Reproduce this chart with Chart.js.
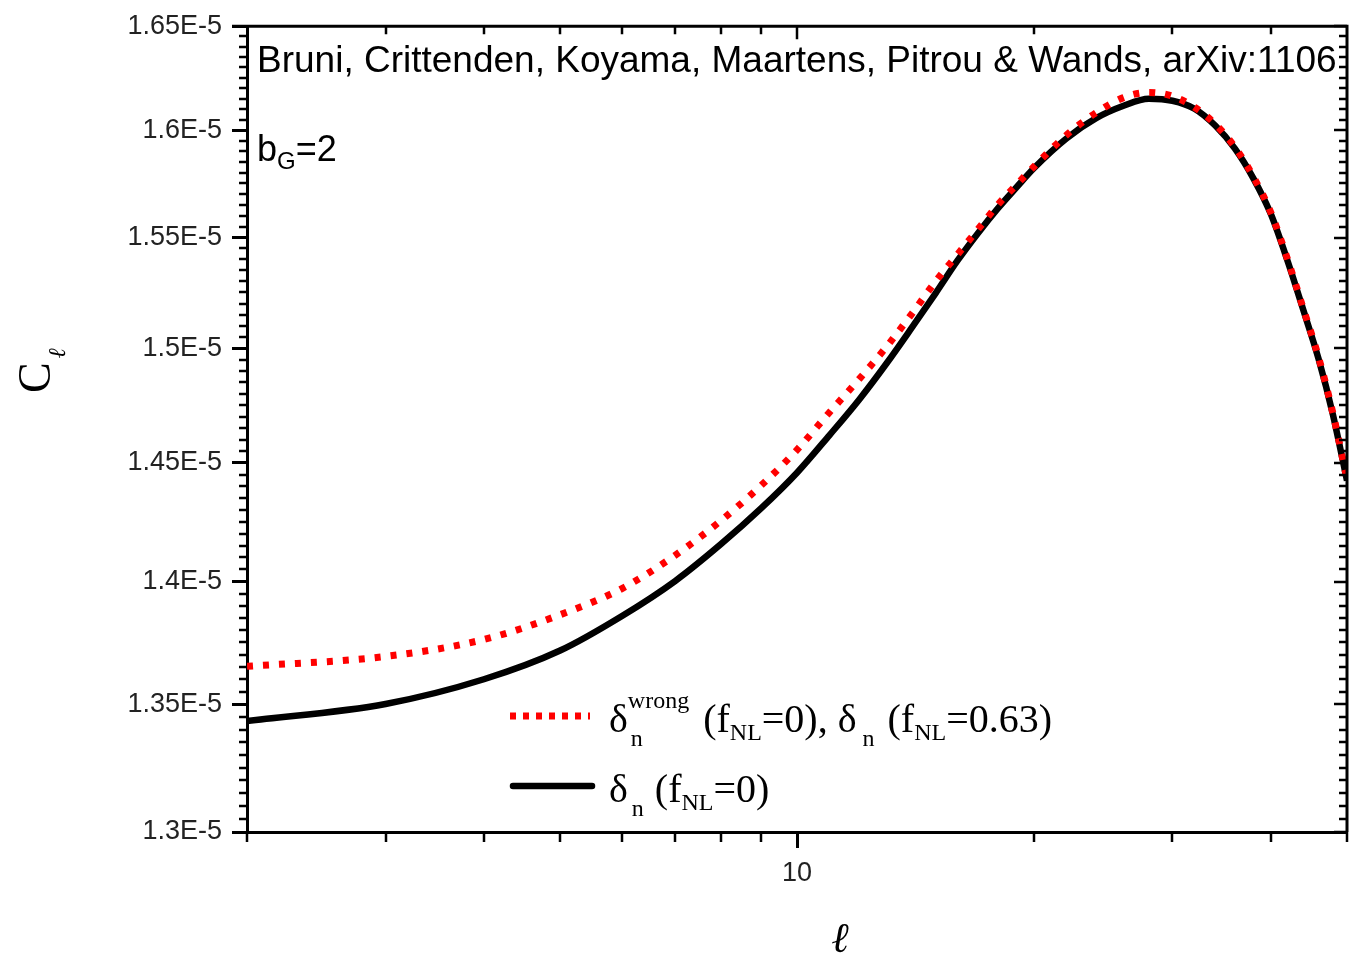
<!DOCTYPE html>
<html>
<head>
<meta charset="utf-8">
<script src="https://cdn.jsdelivr.net/npm/chart.js@4"></script>
<style>
  body { margin: 0; background: #fff; }
</style>
</head>
<body>
<canvas id="grafico" width="1349" height="956"></canvas>
<script>
// multipole l (log axis) and C_l in units of 1e-5
const ells = [2, 3, 4, 5, 6, 7, 8, 9, 10, 11, 12, 13, 14, 15, 16, 17, 18, 19, 20, 22, 24, 26, 28, 30, 32, 34, 36, 38, 40, 42, 44, 46, 48, 50];
const clTrue = [1.3434, 1.3502, 1.3601, 1.3717, 1.3859, 1.4002, 1.4155, 1.4306, 1.4458, 1.4620, 1.4775, 1.4934, 1.5093, 1.5246, 1.5395, 1.5522, 1.5634, 1.5731, 1.5821, 1.5961, 1.6057, 1.6116, 1.6150, 1.6140, 1.6102, 1.6022, 1.5914, 1.5775, 1.5609, 1.5395, 1.5171, 1.4954, 1.4706, 1.4424];
const clWrong = [1.3653, 1.3693, 1.3762, 1.3863, 1.3972, 1.4109, 1.4254, 1.4403, 1.4556, 1.4719, 1.4865, 1.5008, 1.5155, 1.5300, 1.5423, 1.5540, 1.5651, 1.5743, 1.5828, 1.5977, 1.6083, 1.6155, 1.6180, 1.6162, 1.6109, 1.6029, 1.5921, 1.5782, 1.5616, 1.5402, 1.5177, 1.4961, 1.4712, 1.4430];

const xTicks = [10];
const xMinor = [2, 3, 4, 5, 6, 7, 8, 9, 20, 30, 40, 50];
const yTicks = [1.3, 1.35, 1.4, 1.45, 1.5, 1.55, 1.6, 1.65];

const SANS = "'Liberation Sans', Arial, sans-serif";
const SERIF = "'Liberation Serif', 'Times New Roman', serif";

const toPts = (vals) => ells.map((l, i) => ({ x: l, y: vals[i] }));

const put = (ctx, t, size, x, y) => {
  ctx.font = size + "px " + SERIF;
  ctx.fillText(t, x, y);
  return x + ctx.measureText(t).width;
};

const extras = {
  id: "extras",
  afterDraw(chart) {
    const ctx = chart.ctx;
    const a = chart.chartArea;
    const sx = chart.scales.x, sy = chart.scales.y;
    ctx.save();
    ctx.strokeStyle = "#000";
    ctx.lineWidth = 3;
    // top and right frame
    ctx.beginPath();
    ctx.moveTo(a.left - 15, a.top);
    ctx.lineTo(a.right, a.top);
    ctx.lineTo(a.right, a.bottom);
    ctx.stroke();

    ctx.lineWidth = 2.5;
    ctx.beginPath();
    // x minor ticks bottom (out) and top (in)
    xMinor.forEach(v => {
      const px = Math.round(sx.getPixelForValue(v));
      ctx.moveTo(px, a.bottom); ctx.lineTo(px, a.bottom + 10);
      if (v !== 2 && v !== 50) { ctx.moveTo(px, a.top); ctx.lineTo(px, a.top + 8); }
    });
    xTicks.forEach(v => {
      const px = Math.round(sx.getPixelForValue(v));
      ctx.moveTo(px, a.top); ctx.lineTo(px, a.top + 13);
    });
    // y minor ticks left (out) and right (in)
    for (let k = 0; k <= 70; k++) {
      const v = 1.3 + k * 0.005;
      const py = Math.round(sy.getPixelForValue(v));
      const major = k % 10 === 0;
      if (!major) { ctx.moveTo(a.left, py); ctx.lineTo(a.left - 8, py); }
      ctx.moveTo(a.right, py); ctx.lineTo(a.right - (major ? 13 : 8), py);
    }
    ctx.stroke();

    // annotations
    ctx.fillStyle = "#000";
    ctx.textBaseline = "alphabetic";
    ctx.textAlign = "left";
    ctx.font = "37px " + SANS;
    ctx.fillText("Bruni, Crittenden, Koyama, Maartens, Pitrou & Wands, arXiv:1106", 257, 72);
    ctx.font = "36px " + SANS;
    ctx.fillText("b", 257, 161);
    let w = ctx.measureText("b").width;
    ctx.font = "24px " + SANS;
    ctx.fillText("G", 257 + w, 169);
    w += ctx.measureText("G").width;
    ctx.font = "36px " + SANS;
    ctx.fillText("=2", 257 + w, 161);

    // y axis title C_l
    ctx.save();
    ctx.translate(50, 393);
    ctx.rotate(-Math.PI / 2);
    ctx.font = "46px " + SERIF;
    ctx.fillText("C", 0, 0);
    const cw = ctx.measureText("C").width;
    ctx.font = "italic 24px " + SERIF;
    ctx.fillText("\u2113", cw + 4, 15);
    ctx.restore();

    // x axis title l
    ctx.font = "italic 42px " + SERIF;
    ctx.textAlign = "center";
    ctx.fillText("\u2113", 840, 952);
    ctx.textAlign = "left";

    // legend samples
    const ds = chart.data.datasets;
    ctx.lineCap = "butt";
    ctx.strokeStyle = ds[0].borderColor;
    ctx.lineWidth = ds[0].borderWidth;
    ctx.setLineDash([6, 7]);
    ctx.beginPath(); ctx.moveTo(510, 716); ctx.lineTo(590, 716); ctx.stroke();
    ctx.setLineDash([]);
    ctx.strokeStyle = ds[1].borderColor;
    ctx.lineWidth = ds[1].borderWidth;
    ctx.lineCap = "round";
    ctx.beginPath(); ctx.moveTo(513, 786); ctx.lineTo(592, 786); ctx.stroke();

    // legend labels
    const B = 40, S = 24;
    ctx.fillStyle = "#000";
    let y1 = 732, x = put(ctx, "\u03b4", B, 609, y1);
    const xs = x;
    const wW = put(ctx, "wrong", S, xs, y1 - 24) - xs;
    put(ctx, "n", S, xs + 3, y1 + 14);
    x = xs + wW + 14;
    x = put(ctx, "(f", B, x, y1);
    x = put(ctx, "NL", S, x, y1 + 8);
    x = put(ctx, "=0), \u03b4", B, x, y1);
    x = put(ctx, "n", S, x + 6, y1 + 14);
    x = put(ctx, "(f", B, x + 13, y1);
    x = put(ctx, "NL", S, x, y1 + 8);
    put(ctx, "=0.63)", B, x, y1);

    let y2 = 802;
    x = put(ctx, "\u03b4", B, 609, y2);
    x = put(ctx, "n", S, x + 4, y2 + 14);
    x = put(ctx, "(f", B, x + 11, y2);
    x = put(ctx, "NL", S, x, y2 + 8);
    put(ctx, "=0)", B, x, y2);
    ctx.restore();
  }
};

new Chart(document.getElementById("grafico").getContext("2d"), {
  type: "line",
  data: {
    datasets: [
      {
        label: "wrong",
        data: toPts(clWrong),
        borderColor: "#ff0000",
        borderWidth: 7,
        borderDash: [6, 10],
        pointRadius: 0,
        cubicInterpolationMode: "monotone",
        fill: false
      },
      {
        label: "true",
        data: toPts(clTrue),
        borderColor: "#000000",
        borderWidth: 6.5,
        pointRadius: 0,
        cubicInterpolationMode: "monotone",
        fill: false
      }
    ]
  },
  options: {
    responsive: false,
    animation: false,
    layout: { padding: { top: 20, right: 2, left: 0, bottom: 0 } },
    plugins: { legend: { display: false }, tooltip: { enabled: false } },
    scales: {
      x: {
        type: "logarithmic",
        min: 2,
        max: 50,
        afterBuildTicks: (s) => { s.ticks = xTicks.map(v => ({ value: v })); },
        afterFit: (s) => { s.height = 124; },
        ticks: {
          autoSkip: false,
          maxRotation: 0,
          padding: 9,
          color: "#222",
          font: { family: SANS, size: 27 },
          callback: (v) => String(v)
        },
        grid: { drawOnChartArea: false, tickLength: 16, tickWidth: 3, tickColor: "#000" },
        border: { color: "#000", width: 3 }
      },
      y: {
        type: "logarithmic",
        min: 1.3,
        max: 1.65,
        afterBuildTicks: (s) => { s.ticks = yTicks.map(v => ({ value: v })); },
        afterFit: (s) => { s.width = 247; },
        ticks: {
          autoSkip: false,
          padding: 10,
          color: "#222",
          font: { family: SANS, size: 27 },
          callback: (v) => parseFloat(v.toFixed(2)) + "E-5"
        },
        grid: { drawOnChartArea: false, tickLength: 15, tickWidth: 3, tickColor: "#000" },
        border: { color: "#000", width: 3 }
      }
    }
  },
  plugins: [extras]
});
</script>
</body>
</html>
